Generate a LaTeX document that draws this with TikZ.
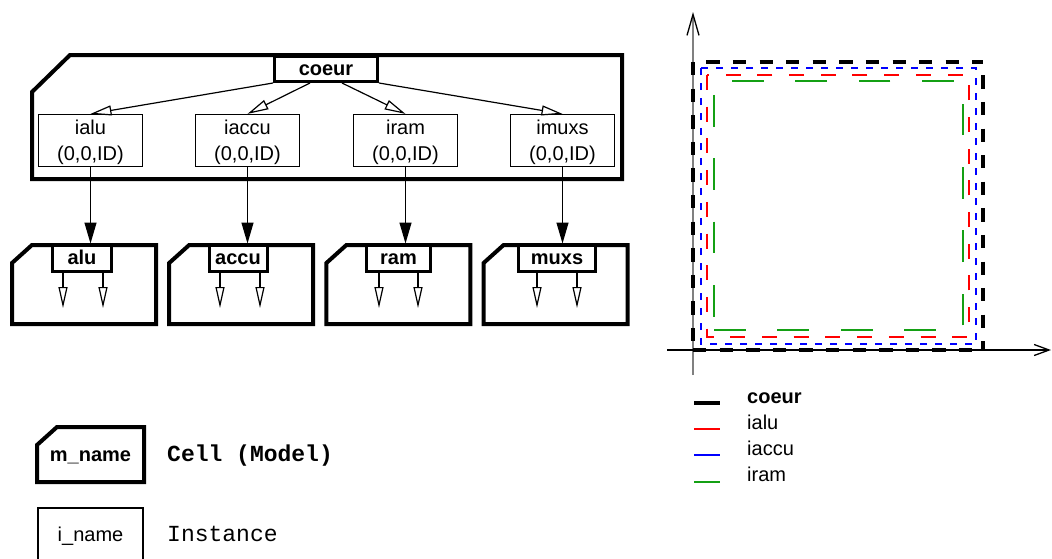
\documentclass[tikz,border=0pt]{standalone}
\usepackage{fontspec}
\setmainfont{Liberation Sans}
\setmonofont{Liberation Mono}
\usetikzlibrary{arrows.meta}
\definecolor{chred}{RGB}{255,0,0}
\definecolor{chblue}{RGB}{0,0,255}
\definecolor{chgreen}{RGB}{20,160,20}
\definecolor{axgray}{RGB}{128,128,128}
\begin{document}
\begin{tikzpicture}[x=1pt,y=-1pt,
  cellline/.style={draw, line width=4pt, line join=miter},
  lblbox/.style={draw, line width=3pt, inner sep=0pt, minimum height=25pt, text height=14pt, text depth=1pt, fill=white, font=\fontsize{20}{25}\selectfont\bfseries},
  instbox/.style={draw, line width=1.2pt, inner sep=0pt, minimum width=104pt, minimum height=52pt},
  insttext/.style={inner sep=0pt, align=center, font=\fontsize{20}{25.5}\selectfont},
  openarr/.style={line width=1.2pt, -{Triangle[open, length=21pt, width=10pt, line width=1.2pt]}},
  fillarr/.style={line width=1.2pt, -{Triangle[length=21pt, width=12pt]}},
  smallarr/.style={line width=1.2pt, -{Triangle[open, length=21pt, width=9pt, line width=1.2pt]}},
  sanstxt/.style={inner sep=0pt, font=\fontsize{20}{25}\selectfont},
  monotxt/.style={inner sep=0pt, font=\fontsize{23}{28}\selectfont\ttfamily},
]
\useasboundingbox (0,0) rectangle (1052,558);

% ---------- coeur cell ----------
\draw[cellline] (70,55) -- (622,55) -- (622,179) -- (32,179) -- (32,92) -- cycle;
\node[lblbox, minimum width=103pt] (coeurlbl) at (326,69) {coeur};

\foreach \n/\x in {ialu/90.5, iaccu/247.5, iram/405.5, imuxs/562.5} {
  \node[instbox] (\n) at (\x,140.5) {};
  \node[insttext, yshift=-2pt] (\n-t) at (\n.center) {\n\\(0,0,ID)};
}

\draw[openarr] (coeurlbl.south west) -- (ialu.north);
\draw[openarr] ([xshift=-16pt]coeurlbl.south) -- (iaccu.north);
\draw[openarr] ([xshift=16pt]coeurlbl.south) -- (iram.north);
\draw[openarr] (coeurlbl.south east) -- (imuxs.north);

% ---------- bottom cells ----------
\foreach \L in {12,169.2,326.4,483.6}
  \draw[cellline] (\L+20,245) -- (\L+144,245) -- (\L+144,324) -- (\L,324) -- (\L,263) -- cycle;

\node[lblbox, minimum height=26pt, minimum width=59pt] (alulbl)  at (82,258) {alu};
\node[lblbox, minimum height=26pt, minimum width=58pt] (acculbl) at (238,258) {accu};
\node[lblbox, minimum height=26pt, minimum width=64pt] (ramlbl)  at (398.5,258) {ram};
\node[lblbox, minimum height=26pt, minimum width=77pt] (muxslbl) at (557,258) {muxs};

\draw[fillarr] (ialu.south) -- (ialu.south |- alulbl.north);
\draw[fillarr] (iaccu.south) -- (iaccu.south |- acculbl.north);
\draw[fillarr] (iram.south) -- (iram.south |- ramlbl.north);
\draw[fillarr] (imuxs.south) -- (imuxs.south |- muxslbl.north);

\foreach \lbl/\xa/\xb in {alulbl/63/103, acculbl/220/260, ramlbl/379/418, muxslbl/537/577} {
  \coordinate (\lbl-a) at (\xa,308);
  \coordinate (\lbl-b) at (\xb,308);
  \draw[smallarr] (\lbl-a |- \lbl.south) -- (\lbl-a);
  \draw[smallarr] (\lbl-b |- \lbl.south) -- (\lbl-b);
}

% ---------- legend (left) ----------
\draw[cellline] (57,427) -- (144,427) -- (144,482) -- (37,482) -- (37,445) -- cycle;
\node[sanstxt, anchor=base, font=\fontsize{20}{25}\selectfont\bfseries] (mname) at (90.5,461) {m\_name};
\node[monotxt, anchor=base west, font=\fontsize{23}{28}\selectfont\ttfamily\bfseries] (celltxt) at (167,461) {Cell (Model)};

\draw[line width=1.2pt] (38,560) -- (38,508) -- (143,508) -- (143,560);
\node[sanstxt, anchor=base] (iname) at (90.5,541) {i\_name};
\node[monotxt, anchor=base west] (insttxt) at (167,541) {Instance};

% ---------- chart ----------
\coordinate (ybot) at (693,375);
\coordinate (ytop) at (693,12);
\draw[axgray, line width=1.4pt, -{Straight Barb[length=21pt, width=12pt, line width=1.3pt, color=black]}] (ybot) -- (ytop);
\coordinate (xl) at (667,350);
\coordinate (xr) at (1051,350);
\draw[line width=1.3pt, -{Straight Barb[length=15pt, width=11pt, line width=1.3pt]}] (xl) -- (xr);

% iram (green)
\draw[chgreen, line width=1.5pt, dash pattern=on 31.7pt off 31.7pt] (714,330) -- (963,330) -- (963,81) -- (714,81) -- cycle;
% ialu (red)
\draw[chred, line width=1.5pt, dash pattern=on 15pt off 16.7pt] (707,75) -- (707,337) -- (969,337) -- (969,75) -- cycle;
% iaccu (blue)
\draw[chblue, line width=1.5pt, dash pattern=on 7pt off 8pt] (701,68) -- (976,68) -- (976,344) -- (701,344) -- cycle;
% coeur (black)
\draw[line width=4pt, dash pattern=on 13.3pt off 13.3pt, dash phase=13.3pt] (693,62) -- (983,62);
\draw[line width=4pt, dash pattern=on 13.3pt off 13.3pt, dash phase=13.3pt] (983,62) -- (983,350);
\draw[line width=4pt, dash pattern=on 13.3pt off 13.3pt] (693,350) -- (983,350);
\draw[line width=4pt, dash pattern=on 13.3pt off 13.3pt] (693,62) -- (693,350);

% ---------- legend (right) ----------
\draw[line width=4pt] (694,403) -- (720,403);
\draw[chred, line width=1.3pt] (694,429) -- (720,429);
\draw[chblue, line width=1.3pt] (694,455) -- (720,455);
\draw[chgreen, line width=1.3pt] (694,482) -- (720,482);
\node[sanstxt, anchor=base west, font=\fontsize{20}{25}\selectfont\bfseries] (lgcoeur) at (747,403) {coeur};
\node[sanstxt, anchor=base west] (lgialu) at (747,429) {ialu};
\node[sanstxt, anchor=base west] (lgiaccu) at (747,455) {iaccu};
\node[sanstxt, anchor=base west] (lgiram) at (747,481) {iram};
\end{tikzpicture}
\end{document}
